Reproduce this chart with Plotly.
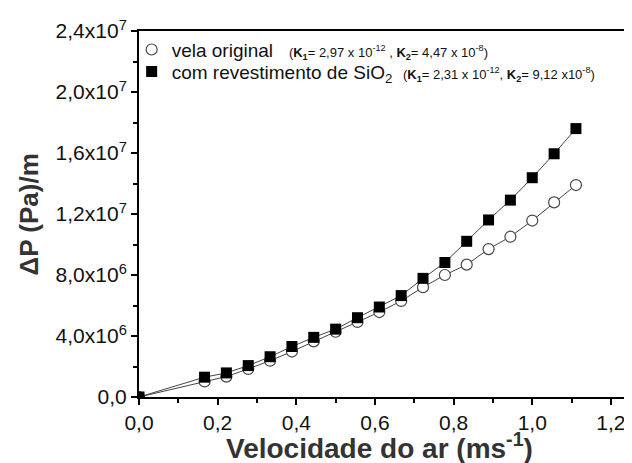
import plotly.graph_objects as go

# ---- data ----
velocidade = [0, 0.1667, 0.2222, 0.2778, 0.3333, 0.3889, 0.4444, 0.5, 0.5556,
              0.6111, 0.6667, 0.7222, 0.7778, 0.8333, 0.8889, 0.9444, 1.0,
              1.0556, 1.1111]
vela_original = [0, 1.02e6, 1.34e6, 1.84e6, 2.38e6, 2.98e6, 3.65e6, 4.28e6,
                 4.92e6, 5.57e6, 6.30e6, 7.20e6, 8.00e6, 8.68e6, 9.70e6,
                 10.51e6, 11.57e6, 12.76e6, 13.90e6]
com_sio2 = [0, 1.30e6, 1.58e6, 2.06e6, 2.64e6, 3.31e6, 3.91e6, 4.45e6,
            5.20e6, 5.90e6, 6.65e6, 7.78e6, 8.82e6, 10.21e6, 11.61e6,
            12.91e6, 14.38e6, 15.95e6, 17.60e6]

x_tickvals = [0, 0.2, 0.4, 0.6, 0.8, 1.0, 1.2]
x_ticktext = ["0,0", "0,2", "0,4", "0,6", "0,8", "1,0", "1,2"]
y_tickvals = [0, 4e6, 8e6, 12e6, 16e6, 20e6, 24e6]
y_ticktext = ["0,0", "4,0x10<sup>6</sup>", "8,0x10<sup>6</sup>",
              "1,2x10<sup>7</sup>", "1,6x10<sup>7</sup>",
              "2,0x10<sup>7</sup>", "2,4x10<sup>7</sup>"]

name1 = ("vela original\u00a0\u00a0\u00a0<span style='font-size:13px'>"
         "(<b>K<sub>1</sub></b>= 2,97 x 10<sup>-12</sup> , "
         "<b>K<sub>2</sub></b>= 4,47 x 10<sup>-8</sup>)</span>")
name2 = ("com revestimento de SiO<sub>2</sub>\u00a0\u00a0<span style='font-size:13px'>"
         "(<b>K<sub>1</sub></b>= 2,31 x 10<sup>-12</sup>, "
         "<b>K<sub>2</sub></b>= 9,12 x10<sup>-8</sup>)</span>")

FONT = "Arial, 'Liberation Sans', sans-serif"
LINEC = "#454545"

fig = go.Figure()
# connecting lines
fig.add_trace(go.Scatter(x=velocidade, y=vela_original, mode="lines",
                         line=dict(color=LINEC, width=1), showlegend=False,
                         hoverinfo="skip"))
fig.add_trace(go.Scatter(x=velocidade, y=com_sio2, mode="lines",
                         line=dict(color=LINEC, width=1), showlegend=False,
                         hoverinfo="skip"))
# markers
fig.add_trace(go.Scatter(
    x=velocidade, y=vela_original, mode="markers", name=name1, legend="legend",
    marker=dict(symbol="circle", size=11, color="white",
                line=dict(color=LINEC, width=1.2)),
))
fig.add_trace(go.Scatter(
    x=velocidade, y=com_sio2, mode="markers", name=name2, legend="legend2",
    marker=dict(symbol="square", size=11, color="black",
                line=dict(color="black", width=0)),
))

axis_common = dict(
    showline=True, linecolor="black", linewidth=2, mirror=True,
    ticks="outside", ticklen=6, tickwidth=1.5, tickcolor="black",
    showgrid=False, zeroline=False,
    tickfont=dict(family=FONT, size=21, color="#111"),
)

fig.update_xaxes(range=[0, 1.246], tickvals=x_tickvals, ticktext=x_ticktext,
                 minor=dict(ticks="outside", ticklen=4, tickwidth=1.5,
                            tickcolor="black", dtick=0.1, tick0=0),
                 **axis_common)
fig.update_yaxes(range=[0, 2.4e7], tickvals=y_tickvals, ticktext=y_ticktext,
                 minor=dict(ticks="outside", ticklen=4, tickwidth=1.5,
                            tickcolor="black", dtick=2e6, tick0=0),
                 **axis_common)

fig.add_annotation(text="<b>Velocidade do ar (ms<sup>-1</sup>)</b>",
                   xref="paper", yref="paper", x=0.49, y=-0.135,
                   xanchor="center", yanchor="middle", showarrow=False,
                   font=dict(family=FONT, size=28, color="#333"))
fig.add_annotation(text="<b>ΔP (Pa)/m</b>", xref="paper", yref="paper",
                   x=-0.2236, y=0.5, xanchor="center", yanchor="middle",
                   textangle=-90, showarrow=False,
                   font=dict(family=FONT, size=26, color="#333"))

legend_common = dict(xanchor="left", yanchor="middle",
                     bgcolor="rgba(0,0,0,0)", borderwidth=0,
                     font=dict(family=FONT, size=19, color="#111"),
                     itemwidth=30)

fig.update_layout(
    width=632, height=463,
    margin=dict(l=131, r=9, t=19, b=74),
    paper_bgcolor="white", plot_bgcolor="white",
    showlegend=True,
    legend=dict(x=-0.015, y=0.949, **legend_common),
    legend2=dict(x=-0.015, y=0.889, **legend_common),
    font=dict(family=FONT),
)

fig.write_html("out.html")
